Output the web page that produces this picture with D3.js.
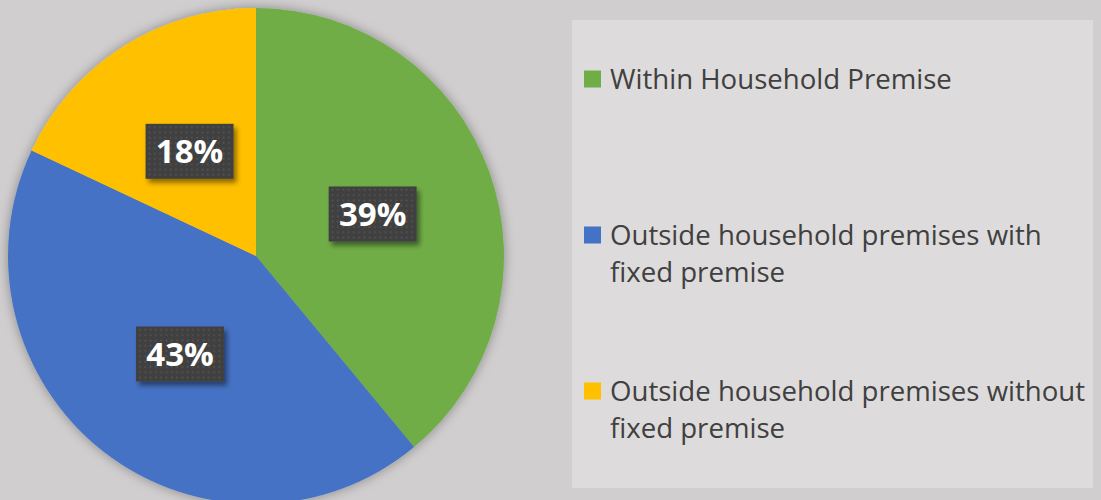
<!DOCTYPE html>
<html><head><meta charset="utf-8">
<script src="https://cdn.jsdelivr.net/npm/d3@7"></script>
<style>html,body{margin:0;padding:0;background:#d0cece;}svg{display:block;}</style>
</head><body>
<svg id="chart" width="1101" height="500"></svg>
<script>
const categories = ["Within Household Premise", "Outside household premises with fixed premise", "Outside household premises without fixed premise"];
const legendLines = [["Within Household Premise"], ["Outside household premises with", "fixed premise"], ["Outside household premises without", "fixed premise"]];
const values = [39, 43, 18];
const labels = ["39%", "43%", "18%"];
const colors = ["#70AD47", "#4472C4", "#FFC000"];

const svg = d3.select("#chart");
const W = 1101, H = 500;
svg.append("rect").attr("width", W).attr("height", H).attr("fill", "#d0cece");

const defs = svg.append("defs");
const f1 = defs.append("filter").attr("id", "pieShadow").attr("x", "-20%").attr("y", "-20%").attr("width", "140%").attr("height", "140%");
f1.append("feDropShadow").attr("dx", 0).attr("dy", 0).attr("stdDeviation", 6).attr("flood-color", "#000").attr("flood-opacity", 0.35);
const f2 = defs.append("filter").attr("id", "lblShadow").attr("x", "-20%").attr("y", "-20%").attr("width", "150%").attr("height", "150%");
f2.append("feDropShadow").attr("dx", 3).attr("dy", 4).attr("stdDeviation", 2.5).attr("flood-color", "#000").attr("flood-opacity", 0.45);
const pat = defs.append("pattern").attr("id", "dots").attr("patternUnits", "userSpaceOnUse").attr("width", 5.3).attr("height", 5.3);
pat.append("rect").attr("width", 5.3).attr("height", 5.3).attr("fill", "#404040");
pat.append("rect").attr("x", 1.5).attr("y", 1.5).attr("width", 1.6).attr("height", 1.6).attr("fill", "#585858");

const cx = 256, cy = 256, r = 248;
const pie = d3.pie().sort(null).value(d => d)(values);
const arc = d3.arc().innerRadius(0).outerRadius(r);
const labelArc = d3.arc().innerRadius(r * 0.5).outerRadius(r * 0.5);

const g = svg.append("g").attr("transform", `translate(${cx},${cy})`);
g.append("g").attr("filter", "url(#pieShadow)")
  .selectAll("path").data(pie).join("path")
  .attr("d", arc).attr("fill", (d, i) => colors[i]);

const lg = g.selectAll("g.lbl").data(pie).join("g").attr("class", "lbl")
  .attr("transform", d => { const c = labelArc.centroid(d); return `translate(${c[0]},${c[1]})`; });
lg.append("rect").attr("x", -44).attr("y", -27.5).attr("width", 88).attr("height", 55)
  .attr("fill", "url(#dots)").attr("filter", "url(#lblShadow)");
lg.append("text").attr("text-anchor", "middle").attr("y", 12)
  .attr("font-family", "'Open Sans', sans-serif").attr("font-weight", "bold").attr("font-size", 33)
  .attr("fill", "#ffffff").text((d, i) => labels[i]);

// Legend
svg.append("rect").attr("x", 572).attr("y", 20).attr("width", 521).attr("height", 468).attr("fill", "#dddbdb");
const legendTop = [79, 235, 391];
const leg = svg.append("g");
const probe = leg.append("text").attr("font-family", "'Open Sans', sans-serif").attr("font-size", 100).text(categories[0]);
const wProbe = probe.node().getComputedTextLength();
probe.remove();
const fs = Math.min(28, 100 * 342 / wProbe);
legendLines.forEach((lines, i) => {
  const y0 = legendTop[i];
  leg.append("rect").attr("x", 584).attr("y", y0 - 8.5).attr("width", 17).attr("height", 17).attr("fill", colors[i]);
  lines.forEach((t, j) => {
    leg.append("text").attr("x", 610).attr("y", y0 + 9.5 + j * 37)
      .attr("font-family", "'Open Sans', sans-serif").attr("font-size", fs)
      .attr("fill", "#404040").text(t);
  });
});
</script>
</body></html>
